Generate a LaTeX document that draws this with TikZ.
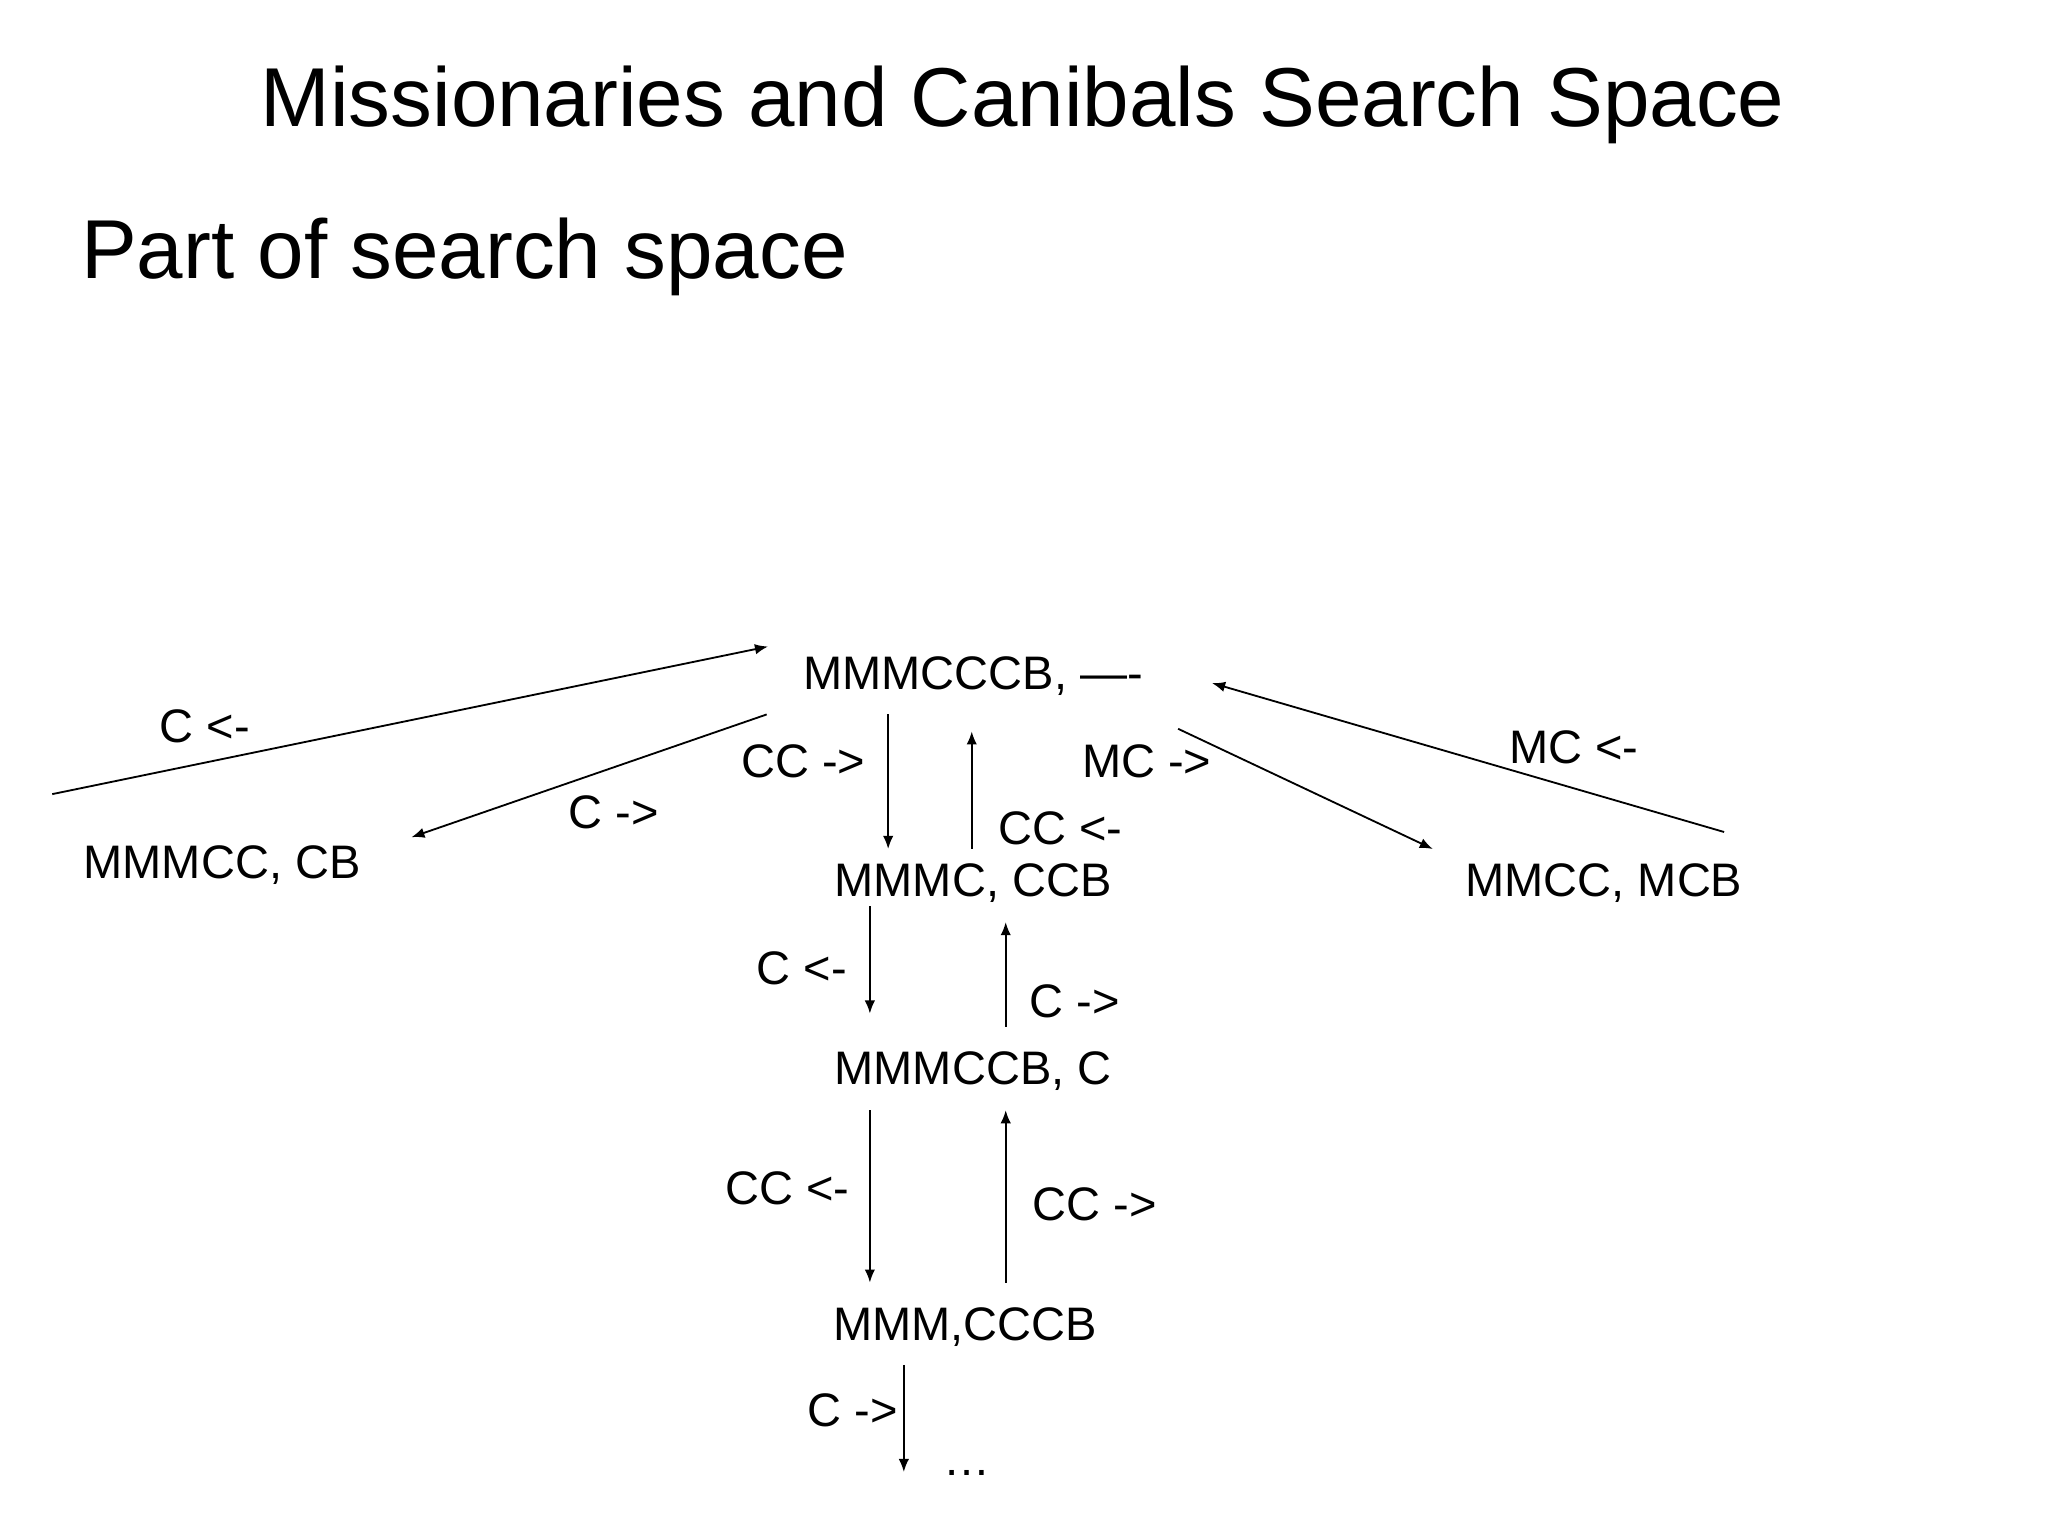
\documentclass[tikz,border=0pt]{standalone}
\usepackage{fontspec}
\setmainfont{Liberation Sans}
\usetikzlibrary{arrows.meta}
\begin{document}
\begin{tikzpicture}[x=0.5pt,y=-0.5pt,
  st/.style={font=\fontsize{18}{20}\selectfont,inner sep=0pt},
  lbl/.style={font=\fontsize{18}{20}\selectfont,inner sep=0pt},
  conn/.style={line width=0.7pt,-{Latex[length=5pt,width=4pt]}}]
\useasboundingbox (0,0) rectangle (1568,1176);
\node[font=\fontsize{32}{36}\selectfont] (title) at (783,80) {Missionaries and Canibals Search Space};
\node[font=\fontsize{32}{36}\selectfont,anchor=west] (sub) at (55,197) {Part of search space};
\node[st] (r) at (745,518) {MMMCCCB, ----};
\node[st] (a) at (170,662) {MMMCC, CB};
\node[st] (b) at (745,676) {MMMC, CCB};
\node[st] (c) at (1228,676) {MMCC, MCB};
\node[st] (d) at (745,820) {MMMCCB, C};
\node[st] (e) at (739,1016) {MMM,CCCB};
\node[st] (f) at (740,1128) {\ldots};
\coordinate (p1) at (40,608); \coordinate (p2) at (588,495);
\coordinate (p3) at (587,547); \coordinate (p4) at (315,641);
\coordinate (p5) at (680,547); \coordinate (p6) at (680,650);
\coordinate (p7) at (744,650); \coordinate (p8) at (744,560);
\coordinate (p9) at (902,558); \coordinate (p10) at (1097,650);
\coordinate (p11) at (1320,637); \coordinate (p12) at (928,523);
\coordinate (p13) at (666,694); \coordinate (p14) at (666,776);
\coordinate (p15) at (770,786); \coordinate (p16) at (770,706);
\coordinate (p17) at (666,850); \coordinate (p18) at (666,982);
\coordinate (p19) at (770,982); \coordinate (p20) at (770,850);
\coordinate (p21) at (692,1045); \coordinate (p22) at (692,1127);
\draw[conn] (p1) -- (p2); \node[lbl] (l1) at (157,556) {C <-};
\draw[conn] (p3) -- (p4); \node[lbl] (l2) at (470,622) {C ->};
\draw[conn] (p5) -- (p6); \node[lbl] (l3) at (615,583) {CC ->};
\draw[conn] (p7) -- (p8); \node[lbl] (l4) at (812,634) {CC <-};
\draw[conn] (p9) -- (p10); \node[lbl] (l5) at (878,583) {MC ->};
\draw[conn] (p11) -- (p12); \node[lbl] (l6) at (1205,572) {MC <-};
\draw[conn] (p13) -- (p14); \node[lbl] (l7) at (614,741) {C <-};
\draw[conn] (p15) -- (p16); \node[lbl] (l8) at (823,767) {C ->};
\draw[conn] (p17) -- (p18); \node[lbl] (l9) at (603,910) {CC <-};
\draw[conn] (p19) -- (p20); \node[lbl] (l10) at (838,922) {CC ->};
\draw[conn] (p21) -- (p22); \node[lbl] (l11) at (653,1080) {C ->};
\end{tikzpicture}
\end{document}
